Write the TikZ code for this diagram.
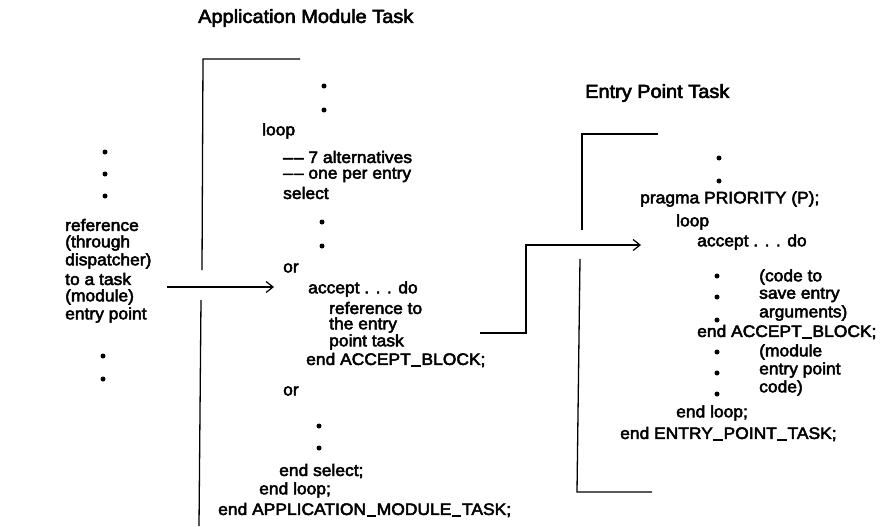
\documentclass[tikz,border=0pt]{standalone}
\usepackage{fontspec}
\setmainfont{Liberation Sans}[FakeStretch=1.05,FakeBold=3]
\usetikzlibrary{arrows.meta}
\newcommand{\bodyfont}{\fontsize{16.6}{18}\selectfont}
\newcommand{\titlefont}{\fontsize{19}{22}\selectfont}
\newcommand{\usc}{\kern0.6pt\rule[-1.6pt]{9.5pt}{1.3pt}\kern0.6pt}
\tikzset{
  txt/.style={anchor=west, inner sep=0pt, font=\bodyfont},
  ttl/.style={anchor=west, inner sep=0pt, font=\titlefont},
  dot/.style={circle, fill=black, inner sep=0pt, minimum size=5pt},
  brk/.style={line width=1.3pt},
  con/.style={line width=1.2pt},
  arr/.style={con, -{Straight Barb[length=7pt,width=11pt,line width=1.2pt]}}
}
\begin{document}
\begin{tikzpicture}[x=1pt,y=-1pt]
\useasboundingbox (0,0) rectangle (886,527);
% titles
\node[ttl] (t1) at (198,18) {Application Module Task};
\node[ttl] (t2) at (585,93) {Entry Point Task};
% left column
\node[dot] (ld1) at (105,152) {};
\node[dot] (ld2) at (105,174) {};
\node[dot] (ld3) at (105,196) {};
\node[txt] (l1) at (65,225) {reference};
\node[txt] (l2) at (65,243) {(through};
\node[txt] (l3) at (65,261) {dispatcher)};
\node[txt] (l4) at (65,279) {to a task};
\node[txt] (l5) at (65,297) {(module)};
\node[txt] (l6) at (65,315) {entry point};
\node[dot] (ld4) at (103,356) {};
\node[dot] (ld5) at (103,379) {};
% middle column
\node[dot] (md1) at (324,86) {};
\node[dot] (md2) at (324,110) {};
\node[txt] (m1) at (262,131) {loop};
\node[txt] (m2) at (283,157) {–\kern1pt– 7 alternatives};
\node[txt] (m3) at (283,175) {–\kern1pt– one per entry};
\node[txt] (m4) at (283,193) {select};
\node[dot] (md3) at (322,222) {};
\node[dot] (md4) at (322,246) {};
\node[txt] (m5) at (283,268) {or};
\node[txt] (m6) at (308,289) {accept . . . do};
\node[txt] (m7) at (329,308) {reference to};
\node[txt] (m8) at (329,325) {the entry};
\node[txt] (m9) at (329,342) {point task};
\node[txt] (m10) at (306,360) {end ACCEPT\usc BLOCK;};
\node[txt] (m11) at (283,391) {or};
\node[dot] (md5) at (319,426) {};
\node[dot] (md6) at (319,448) {};
\node[txt] (m12) at (279,471) {end select;};
\node[txt] (m13) at (259,490) {end loop;};
\node[txt] (m14) at (218,510) {end APPLICATION\usc MODULE\usc TASK;};
% right column
\node[dot] (rd1) at (719,158) {};
\node[dot] (rd2) at (719,181) {};
\node[txt] (r1) at (640,199) {pragma PRIORITY (P);};
\node[txt] (r2) at (676,222) {loop};
\node[txt] (r3) at (697,242) {accept . . . do};
\node[dot] (rd3) at (717,276) {};
\node[dot] (rd4) at (717,297) {};
\node[dot] (rd5) at (717,320) {};
\node[txt] (r4) at (759,277) {(code to};
\node[txt] (r5) at (759,295) {save entry};
\node[txt] (r6) at (759,313) {arguments)};
\node[txt] (r7) at (697,332) {end ACCEPT\usc BLOCK;};
\node[dot] (rd6) at (717,352) {};
\node[dot] (rd7) at (717,373) {};
\node[dot] (rd8) at (717,394) {};
\node[txt] (r8) at (759,352) {(module};
\node[txt] (r9) at (759,370) {entry point};
\node[txt] (r10) at (759,388) {code)};
\node[txt] (r11) at (676,413) {end loop;};
\node[txt] (r12) at (620,434) {end ENTRY\usc POINT\usc TASK;};
% brackets
\draw[brk] (300,59) -- (203,59) -- (202,270);
\draw[brk] (201,300) -- (199,526);
\draw[brk] (658,134) -- (582,134) -- (582,230);
\draw[brk] (580,259) -- (577,492) -- (652,492);
% connectors
\coordinate (a1s) at (167,287);
\coordinate (a1e) at (274,287);
\draw[arr] (a1s) -- (a1e);
\coordinate (a2s) at (480,333);
\coordinate (a2e) at (641,245);
\draw[arr] (a2s) -- (526,333) -- (526,245) -- (a2e);
\end{tikzpicture}
\end{document}
